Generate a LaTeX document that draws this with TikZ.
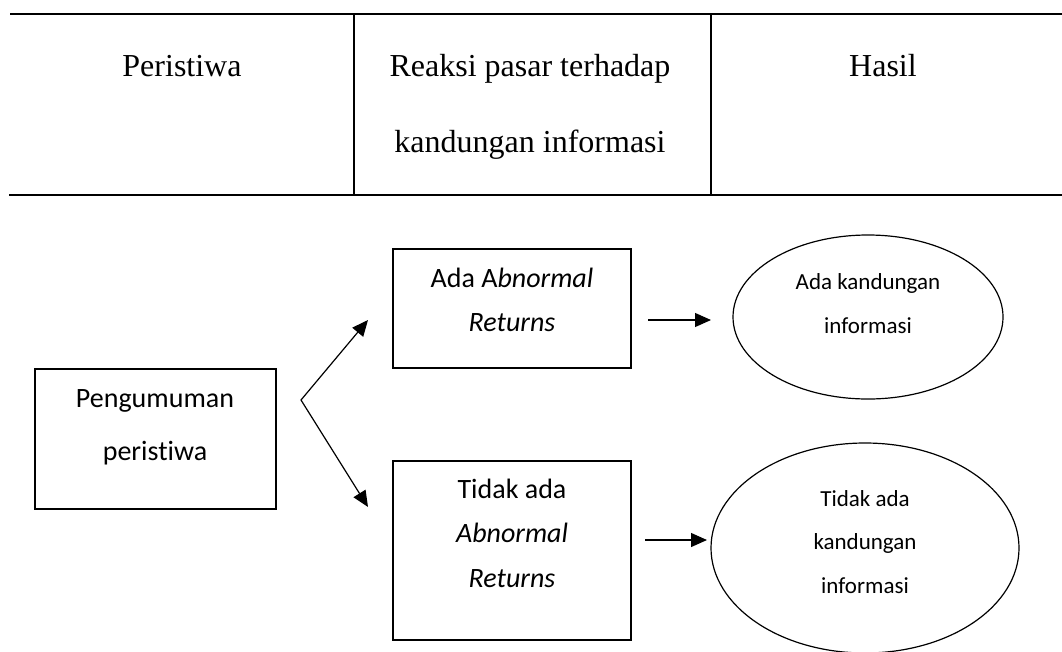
\documentclass[tikz,border=0pt]{standalone}
\usepackage{fontspec}
\setmainfont{Liberation Serif}
\newfontfamily\carlito[Ligatures=NoCommon]{Carlito}
\usetikzlibrary{arrows.meta,shapes.geometric}
\newcommand{\tabfont}{\fontsize{32}{38}\selectfont}
\newcommand{\boxfont}{\carlito\fontsize{28}{34}\selectfont}
\newcommand{\ellfont}{\carlito\fontsize{23}{28}\selectfont}
\begin{document}
\begin{tikzpicture}[x=1pt,y=-1pt,
  tabtext/.style={font=\tabfont, anchor=base, inner sep=0pt},
  boxtext/.style={font=\boxfont, anchor=base, inner sep=0pt},
  elltext/.style={font=\ellfont, anchor=base, inner sep=0pt},
  rule/.style={line width=2.6pt},
  colrule/.style={line width=1.3pt},
  bx/.style={draw, line width=1.2pt, inner sep=0pt},
  ell/.style={draw, ellipse, line width=1.2pt, inner sep=0pt},
  arr/.style={-{Triangle[length=16pt,width=14pt]}, line width=1.2pt},
  darr/.style={{Triangle[length=16pt,width=14pt]}-{Triangle[length=16pt,width=14pt]}, line width=1.2pt}]
\useasboundingbox (0,0) rectangle (1062,651);
\fill[white] (0,0) rectangle (1062,651);

% table
\coordinate (tl) at (10,14);
\coordinate (tr) at (1062,14);
\coordinate (bl) at (9,195);
\coordinate (br) at (1062,195);
\coordinate (v1t) at (354,14);
\coordinate (v1b) at (354,195);
\coordinate (v2t) at (711,14);
\coordinate (v2b) at (711,195);
\draw[rule] (tl) -- (tr);
\draw[rule] (bl) -- (br);
\draw[colrule] (v1t) -- (v1b);
\draw[colrule] (v2t) -- (v2b);
\node[tabtext] (h1) at (182,76) {Peristiwa};
\node[tabtext] (h2a) at (530,76) {Reaksi pasar terhadap};
\node[tabtext] (h2b) at (530,152) {kandungan informasi};
\node[tabtext] (h3) at (883,76) {Hasil};

% boxes
\node[bx, minimum width=241pt, minimum height=140pt] (peng) at (155.5,439) {};
\node[boxtext] (peng1) at (155,407) {Pengumuman};
\node[boxtext] (peng2) at (155,460) {peristiwa};

\node[bx, minimum width=238pt, minimum height=119pt] (ada) at (512,308.5) {};
\node[boxtext] (ada1) at (512,287) {Ada A\textit{bnormal}};
\node[boxtext] (ada2) at (512,331) {\textit{Returns}};

\node[bx, minimum width=238pt, minimum height=179pt] (tidak) at (512,550.5) {};
\node[boxtext] (tidak1) at (512,498) {Tidak ada};
\node[boxtext] (tidak2) at (512,542) {\textit{Abnormal}};
\node[boxtext] (tidak3) at (512,587) {\textit{Returns}};

% ellipses
\node[ell, minimum width=270pt, minimum height=164pt] (e1) at (868,317) {};
\node[elltext] (e1a) at (868,289) {Ada kandungan};
\node[elltext] (e1b) at (868,333) {informasi};

\node[ell, minimum width=308pt, minimum height=210pt] (e2) at (865,548) {};
\node[elltext] (e2a) at (865,506) {Tidak ada};
\node[elltext] (e2b) at (865,549) {kandungan};
\node[elltext] (e2c) at (865,593) {informasi};

% connectors
\coordinate (fork) at (301,400);
\coordinate (up) at (368,320);
\coordinate (dn) at (368,507);
\draw[darr] (up) -- (fork) -- (dn);

\coordinate (r1s) at (648,320);
\coordinate (r1e) at (711,320);
\coordinate (r2s) at (645,540);
\coordinate (r2e) at (707,540);
\draw[arr] (r1s) -- (r1e);
\draw[arr] (r2s) -- (r2e);
\end{tikzpicture}
\end{document}
